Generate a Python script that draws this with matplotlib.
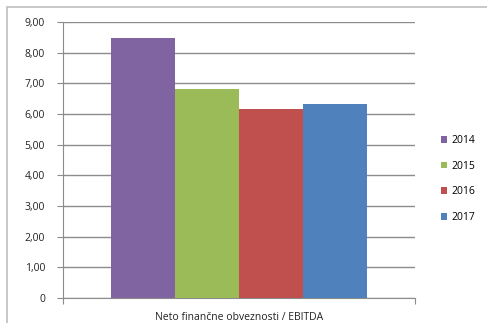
import matplotlib.pyplot as plt
from matplotlib.patches import Rectangle

category = "Neto finančne obveznosti / EBITDA"
years = ["2014", "2015", "2016", "2017"]
values = [8.48, 6.81, 6.16, 6.33]
colors = ["#8064A2", "#9BBB59", "#C0504D", "#4F81BD"]
yticks = [0, 1, 2, 3, 4, 5, 6, 7, 8, 9]
ytick_labels = ["0", "1,00", "2,00", "3,00", "4,00", "5,00", "6,00", "7,00", "8,00", "9,00"]

plt.rcParams["font.family"] = ["Open Sans", "DejaVu Sans"]
FS = 7.5

W, H = 487, 323
fig = plt.figure(figsize=(W / 100, H / 100), dpi=100)

# chart area border
fig.patches.append(Rectangle((7 / W, -0.1), 1.2, 1 - 7 / H + 0.1, transform=fig.transFigure,
                             fill=False, edgecolor="#BFBFBF", linewidth=1.2))

ax = fig.add_axes([63 / W, (H - 298) / H, (415 - 63) / W, (298 - 22) / H])

bw = 0.1825
n = len(years)
for i, (yr, v, c) in enumerate(zip(years, values, colors)):
    ax.bar((i - (n - 1) / 2) * bw, v, width=bw, color=c, label=yr, zorder=3)

ax.set_xlim(-0.5, 0.5)
ax.set_ylim(0, 9)
ax.set_yticks(yticks)
ax.set_yticklabels(ytick_labels, fontsize=FS, color="#222222")
ax.yaxis.grid(True, color="#8C8C8C", linewidth=1.0, zorder=0)
ax.set_xticks([-0.5, 0.5])
ax.set_xticklabels(["", ""])
ax.tick_params(axis="x", length=4, color="#8C8C8C", direction="out")
ax.tick_params(axis="y", length=4, color="#8C8C8C", direction="out", pad=9)
for s in ["top", "right"]:
    ax.spines[s].set_visible(False)
for s in ["left", "bottom"]:
    ax.spines[s].set_color("#8C8C8C")
ax.set_facecolor("none")

ax.annotate(category, xy=(0.5, 0), xycoords="axes fraction", xytext=(0, -14),
            textcoords="offset points", ha="center", va="center", fontsize=FS, color="#222222")

leg = fig.legend(loc="upper left", bbox_to_anchor=(437 / W, 1 - 131 / H), frameon=False,
                 fontsize=FS, handlelength=0.6, handleheight=0.6, handletextpad=0.35,
                 labelspacing=1.4, borderaxespad=0)

fig.savefig("out.png", dpi=100)
